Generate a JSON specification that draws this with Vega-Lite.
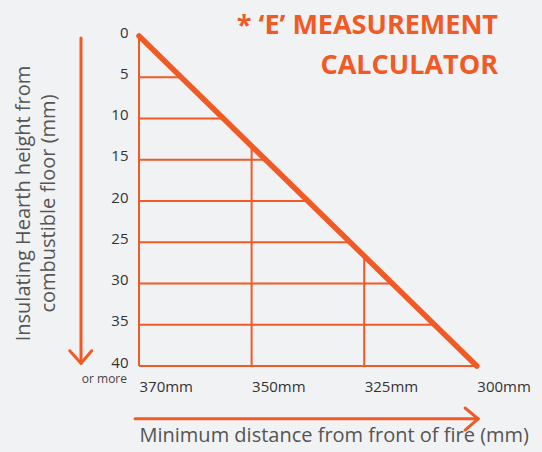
{
  "$schema": "https://vega.github.io/schema/vega-lite/v6.json",
  "width": 338,
  "height": 330,
  "autosize": {"type": "none"},
  "padding": {"left": 139, "top": 36, "right": 65, "bottom": 86},
  "background": "#F1F2F4",
  "config": {"view": {"stroke": null}, "font": "Open Sans"},
  "title": {
    "text": ["* ‘E’ MEASUREMENT", "CALCULATOR"],
    "anchor": "end",
    "align": "right",
    "frame": "group",
    "color": "#F15A24",
    "fontSize": 27,
    "fontWeight": "bold",
    "lineHeight": 40,
    "offset": -55,
    "dx": 21
  },
  "datasets": {
    "grid": [
      {"mm": 370, "mm2": 370, "h": 0, "h2": 40},
      {"mm": 350, "mm2": 350, "h": 13.33, "h2": 40},
      {"mm": 325, "mm2": 325, "h": 26.67, "h2": 40},
      {"mm": 370, "mm2": 362.5, "h": 5, "h2": 5},
      {"mm": 370, "mm2": 355, "h": 10, "h2": 10},
      {"mm": 370, "mm2": 346.875, "h": 15, "h2": 15},
      {"mm": 370, "mm2": 337.5, "h": 20, "h2": 20},
      {"mm": 370, "mm2": 328.125, "h": 25, "h2": 25},
      {"mm": 370, "mm2": 318.75, "h": 30, "h2": 30},
      {"mm": 370, "mm2": 309.375, "h": 35, "h2": 35},
      {"mm": 370, "mm2": 300, "h": 40, "h2": 40}
    ],
    "diagonal": [
      {"mm": 370, "mm2": 300, "h": 0, "h2": 40}
    ],
    "arrows": [
      {"mm": 380.3, "mm2": 380.3, "h": 0.24, "h2": 39.6},
      {"mm": 382.3, "mm2": 380.3, "h": 38.15, "h2": 39.67},
      {"mm": 378.4, "mm2": 380.3, "h": 38.15, "h2": 39.67},
      {"mm": 370.7, "mm2": 299.7, "h": 46.4, "h2": 46.4},
      {"mm": 302.6, "mm2": 299.7, "h": 45.09, "h2": 46.4},
      {"mm": 302.6, "mm2": 299.7, "h": 47.76, "h2": 46.4}
    ],
    "note": [
      {"mm": 370, "h": 40, "label": "or more"}
    ]
  },
  "encoding": {
    "x": {
      "field": "mm",
      "type": "quantitative",
      "scale": {"domain": [370, 350, 325, 300], "range": [0, 112.6, 225.2, 337.8], "nice": false, "zero": false},
      "axis": {
        "values": [370, 350, 325, 300],
        "labelExpr": "datum.value + 'mm'",
        "labelAlign": "left",
        "labelFontSize": 15,
        "labelColor": "#333333",
        "labelPadding": 13,
        "ticks": false,
        "tickSize": 0,
        "domain": false,
        "grid": false,
        "title": "Minimum distance from front of fire (mm)",
        "titleFontSize": 20,
        "titleFontWeight": "normal",
        "titleColor": "#555555",
        "titleAnchor": "start",
        "titleAlign": "left",
        "titlePadding": 31
      }
    },
    "y": {
      "field": "h",
      "type": "quantitative",
      "scale": {"domain": [0, 40], "reverse": true, "nice": false, "zero": false},
      "axis": {
        "values": [0, 5, 10, 15, 20, 25, 30, 35, 40],
        "labelFontSize": 15,
        "labelColor": "#333333",
        "labelPadding": 11,
        "labelBaseline": "alphabetic",
        "labelOffset": 1,
        "ticks": false,
        "tickSize": 0,
        "domain": false,
        "grid": false,
        "title": ["Insulating Hearth height from", "combustible floor (mm)"],
        "titleFontSize": 20,
        "titleFontWeight": "normal",
        "titleColor": "#555555",
        "titleLineHeight": 25,
        "titleAngle": -90,
        "titleAlign": "center",
        "titleBaseline": "top",
        "titleX": -126,
        "titleY": 167
      }
    }
  },
  "layer": [
    {
      "data": {"name": "grid"},
      "mark": {"type": "rule", "color": "#F15A24", "strokeWidth": 2},
      "encoding": {"x2": {"field": "mm2"}, "y2": {"field": "h2"}}
    },
    {
      "data": {"name": "arrows"},
      "mark": {"type": "rule", "color": "#F15A24", "strokeWidth": 3, "strokeCap": "round"},
      "encoding": {"x2": {"field": "mm2"}, "y2": {"field": "h2"}}
    },
    {
      "data": {"name": "diagonal"},
      "mark": {"type": "rule", "color": "#F15A24", "strokeWidth": 5.5, "strokeCap": "round"},
      "encoding": {"x2": {"field": "mm2"}, "y2": {"field": "h2"}}
    },
    {
      "data": {"name": "note"},
      "mark": {"type": "text", "align": "right", "baseline": "alphabetic", "dx": -12, "dy": 16.5, "fontSize": 12, "color": "#444444"},
      "encoding": {"text": {"field": "label"}}
    }
  ]
}
